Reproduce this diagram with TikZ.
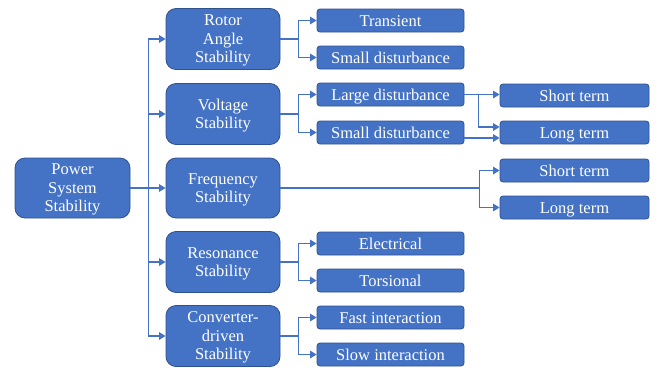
\documentclass[tikz,border=0pt]{standalone}
\usepackage{fontspec}
\setmainfont{Liberation Serif}
\usetikzlibrary{arrows.meta}
\definecolor{boxfill}{HTML}{4472C4}
\definecolor{boxline}{HTML}{2F528F}
\definecolor{wire}{HTML}{4472C4}
\tikzset{
  base/.style={draw=boxline, line width=0.8pt, fill=boxfill, text=white,
    align=center, inner sep=0pt, font=\fontsize{16.5}{18.5}\selectfont},
  bigbox/.style={base, rounded corners=10pt, minimum width=114pt, minimum height=61pt,
    text depth=-2pt},
  smallbox/.style={base, rounded corners=3pt, minimum width=147pt, minimum height=23pt,
    text height=13pt, text depth=1pt},
  endbox/.style={smallbox, minimum width=149pt},
  conn/.style={draw=wire, line width=1.4pt},
  arr/.style={conn, -{Triangle[length=6.5pt,width=7.5pt]}},
}
\begin{document}
\begin{tikzpicture}[x=1pt, y=-1pt]
\useasboundingbox (0,0) rectangle (656,367);

% root
\node[bigbox, minimum width=115pt, minimum height=60pt] (pss) at (72.5,188) {Power\\System\\Stability};

% first level
\node[bigbox] (rotor) at (223,39) {Rotor\\Angle\\Stability};
\node[bigbox] (volt) at (223,114) {Voltage\\Stability};
\node[bigbox, minimum height=60pt] (freq) at (223,188) {Frequency\\Stability};
\node[bigbox] (reso) at (223,262) {Resonance\\Stability};
\node[bigbox] (conv) at (223,336) {Converter-\\driven\\Stability};

% second level
\node[smallbox] (trans) at (390.5,20.5) {Transient};
\node[smallbox] (rsmall) at (390.5,57.5) {Small disturbance};
\node[smallbox] (vlarge) at (390.5,94.5) {Large disturbance};
\node[smallbox] (vsmall) at (390.5,132.5) {Small disturbance};
\node[smallbox] (elec) at (390.5,243.5) {Electrical};
\node[smallbox] (tors) at (390.5,280.5) {Torsional};
\node[smallbox] (fast) at (390.5,317.5) {Fast interaction};
\node[smallbox] (slow) at (390.5,354.5) {Slow interaction};

% third level
\node[endbox] (vshort) at (574.5,95.5) {Short term};
\node[endbox] (vlong) at (574.5,132.5) {Long term};
\node[endbox] (fshort) at (574.5,170.5) {Short term};
\node[endbox] (flong) at (574.5,207.5) {Long term};

% root to first level
\foreach \n in {rotor,volt,freq,reso,conv}
  \draw[arr] (pss.east) -- ++(18,0) |- (\n.west);

% first to second level
\draw[arr] (rotor.east) -- ++(18,0) |- (trans.west);
\draw[arr] (rotor.east) -- ++(18,0) |- (rsmall.west);
\draw[arr] (volt.east) -- ++(18,0) |- (vlarge.west);
\draw[arr] (volt.east) -- ++(18,0) |- (vsmall.west);
\draw[arr] (reso.east) -- ++(18,0) |- (elec.west);
\draw[arr] (reso.east) -- ++(18,0) |- (tors.west);
\draw[arr] (conv.east) -- ++(18,0) |- (fast.west);
\draw[arr] (conv.east) -- ++(18,0) |- (slow.west);

% voltage sub-branches
\draw[arr] (vlarge.east) -- (vlarge.east -| vshort.west);
\draw[arr] (vlarge.east) -- ++(14,0) |- ([yshift=5.5pt]vlong.west);
\draw[arr] ([yshift=-5.5pt]vsmall.east) -- ([yshift=-5.5pt]vlong.west);

% frequency sub-branches
\draw[arr] (freq.east) -- ++(199,0) |- (fshort.west);
\draw[arr] (freq.east) -- ++(199,0) |- (flong.west);
\end{tikzpicture}
\end{document}
